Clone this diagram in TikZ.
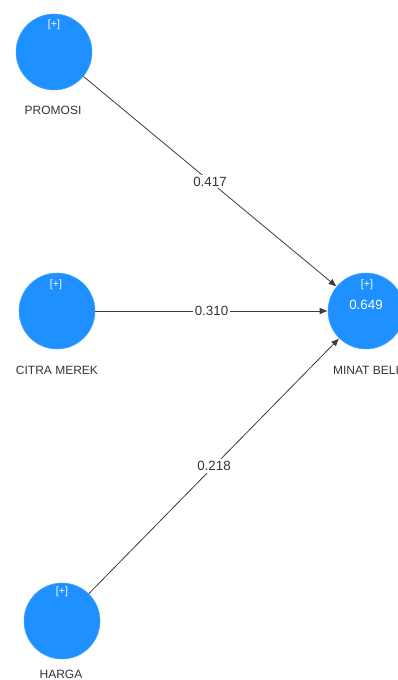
\documentclass[tikz,border=0pt]{standalone}
\usepackage{fontspec}
\setmainfont{Liberation Sans}
\usetikzlibrary{arrows.meta}
\definecolor{latentblue}{RGB}{30,144,255}
\definecolor{linegray}{RGB}{60,60,60}
\tikzset{
  latentvar/.style={circle, fill=latentblue, draw=latentblue!80!white, minimum size=57pt, inner sep=0pt},
  varname/.style={inner sep=0.75pt, font=\fontsize{9}{10}\selectfont, text=black!80},
  plusmark/.style={inner sep=0.75pt, font=\fontsize{8}{9}\selectfont, text=white},
  coef/.style={fill=white, inner sep=1.5pt, font=\fontsize{10}{12}\selectfont, text=black!80},
  pathline/.style={draw=linegray, line width=0.6pt, -{Latex[length=6pt,width=5pt]}}
}
\begin{document}
\begin{tikzpicture}[x=0.75pt,y=0.75pt,yscale=-1,xscale=1]
\useasboundingbox (0,0) rectangle (397,680);

% latent variables
\node [latentvar] (promosi) at (54,52) {};
\node [latentvar] (citra) at (57,311) {};
\node [latentvar] (harga) at (62,621) {};
\node [latentvar] (minat) at (366,311) {};

% text inside the circles
\node [plusmark] (promosiplus) at (54,25) {[+]};
\node [plusmark] (citraplus) at (56,285) {[+]};
\node [plusmark] (hargaplus) at (62,592) {[+]};
\node [plusmark] (minatplus) at (367,285) {[+]};
\node [plusmark, font=\fontsize{10}{12}\selectfont] (minatrsq) at (366,305) {0.649};

% variable names
\node [varname] (promosilabel) at (53,110) {PROMOSI};
\node [varname] (citralabel) at (57,370) {CITRA MEREK};
\node [varname] (hargalabel) at (61,674) {HARGA};
\node [varname] (minatlabel) at (366,370) {MINAT BELI};

% path coefficients
\draw [pathline] (promosi) -- node [coef] {0.417} (minat);
\draw [pathline] (citra) -- node [coef] {0.310} (minat);
\draw [pathline] (harga) -- node [coef] {0.218} (minat);

\end{tikzpicture}
\end{document}
